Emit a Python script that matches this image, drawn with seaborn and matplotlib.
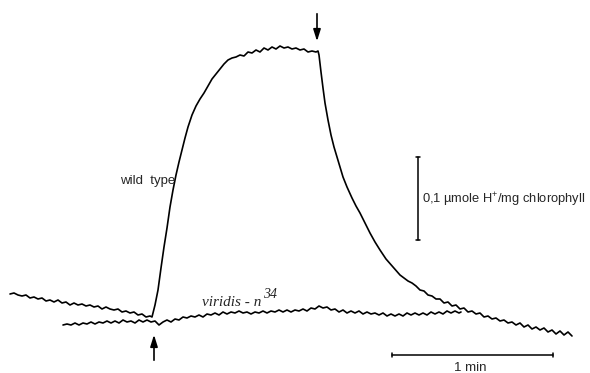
import matplotlib
matplotlib.use("Agg")
import matplotlib.pyplot as plt
import seaborn as sns

# traces (x = chart position, y = pen position, downwards)
wt_x = [10, 14, 18, 22, 26, 30, 34, 38, 42, 46, 50, 54, 58, 62, 66, 70, 74, 78, 82, 86,
        90, 94, 98, 102, 106, 110, 114, 118, 122, 126, 130, 134, 138, 142, 146, 150,
        152, 155, 158, 161, 164, 167, 170, 173, 176, 179, 182, 185, 188, 192, 196, 200,
        204, 208, 212, 216, 220, 224, 228, 232,
        236, 240, 244, 248, 252, 256, 260, 264, 268, 272, 276, 280, 284, 288, 292, 296,
        300, 304, 308, 312, 316, 318,
        319, 321, 323, 325, 328, 331, 334, 337, 340, 343, 347, 352, 356, 360, 365, 370,
        375, 380, 386, 393,
        400, 404, 408, 412, 416, 420, 424, 428, 432, 436, 440, 444, 448, 452, 456, 460,
        464, 468, 472, 476, 480, 484, 488, 492, 496, 500, 504, 508, 512, 516, 520, 524,
        528, 532, 536, 540, 544, 548, 552, 556, 560, 564, 568, 572]
wt_y = [294, 293, 295, 296, 295, 298, 297, 299, 298, 301, 300, 302, 300, 303, 302, 305, 303, 305, 304, 306,
        305, 307, 306, 309, 307, 309, 310, 309, 312, 311, 313, 312, 315, 314, 317, 316,
        317, 305, 290, 268, 247, 228, 207, 190, 175, 162, 150, 138, 127, 115, 106, 99,
        93, 86, 79, 74, 69, 64, 60, 58,
        57, 55, 56, 52, 53, 50, 52, 48, 50, 47, 49, 46, 48, 47, 49, 48,
        50, 49, 52, 51, 52, 51,
        55, 72, 88, 103, 120, 135, 147, 157, 167, 177, 187, 198, 206, 213, 223, 233,
        242, 250, 259, 267,
        275, 278, 281, 283, 286, 290, 291, 295, 296, 299, 299, 303, 302, 306, 305, 309,
        308, 312, 311, 314, 313, 317, 316, 319, 318, 321, 320, 323, 322, 325, 323, 327,
        325, 329, 327, 330, 328, 332, 330, 334, 331, 335, 332, 336]

vir_x = [63, 67, 71, 75, 79, 83, 87, 91, 95, 99, 103, 107, 111, 115, 119, 123, 127, 131, 135, 139,
         143, 147, 151, 155, 159, 163, 167, 171, 175, 179, 183, 187, 191, 195, 199, 203, 207, 211,
         215, 219, 223, 227, 231, 235, 239, 243, 247, 251, 255, 259, 263, 267, 271, 275, 279, 283,
         287, 291, 295, 299, 303, 307, 311, 315, 319, 323, 327, 331, 335, 339, 343, 347, 351, 355,
         359, 363, 367, 371, 375, 379, 383, 387, 391, 395, 399, 403, 407, 411, 415, 419, 423, 427,
         431, 435, 439, 443, 447, 451, 455, 459, 461]
vir_y = [325, 324, 325, 323, 325, 323, 324, 322, 324, 322, 323, 321, 323, 321, 323, 320, 322, 321, 323, 320,
         322, 320, 322, 321, 325, 322, 320, 322, 319, 320, 317, 318, 316, 317, 315, 317, 314, 315,
         313, 315, 312, 314, 312, 313, 311, 313, 312, 314, 312, 313, 311, 313, 311, 312, 310, 312,
         310, 312, 310, 311, 309, 311, 308, 309, 306, 308, 307, 310, 309, 312, 310, 313, 311, 313,
         311, 314, 312, 314, 313, 315, 313, 316, 314, 316, 314, 316, 313, 315, 313, 315, 313, 315,
         312, 314, 312, 314, 311, 313, 311, 313, 312]

light_on = 154
light_off = 317
one_min = 161          # chart units per minute
h_scale = 83           # chart units per 0.1 umol H+/mg chlorophyll

sns.set_style("white")
plt.rcParams["font.family"] = ["Liberation Sans", "DejaVu Sans"]
plt.rcParams["mathtext.default"] = "regular"

fig = plt.figure(figsize=(5.9, 3.73), dpi=100)
ax = fig.add_axes([0, 0, 1, 1])
sns.lineplot(x=wt_x, y=wt_y, sort=False, estimator=None, color="black", lw=1.2, ax=ax)
sns.lineplot(x=vir_x, y=vir_y, sort=False, estimator=None, color="black", lw=1.2, ax=ax)
ax.set_xlim(0, 590)
ax.set_ylim(373, 0)
ax.axis("off")

# light on / off arrows
arr = dict(arrowstyle="-|>,head_length=0.7,head_width=0.22", color="black", lw=1.2)
ax.annotate("", xy=(light_on, 332), xytext=(light_on, 363), arrowprops=arr)
ax.annotate("", xy=(light_off, 44), xytext=(light_off, 11), arrowprops=arr)

# labels
ax.text(175, 181, "wild  type", ha="right", va="center", fontsize=9.5)
vt = ax.text(202, 306, "viridis - n", fontsize=11, family="Liberation Serif",
             style="italic", va="baseline")
ax.annotate("34", xy=(1.0, 0.6), xycoords=vt, xytext=(1, 0), textcoords="offset points",
            fontsize=10, family="Liberation Serif", style="italic", va="bottom")

# vertical scale bar
ax.plot([418, 418], [157, 157 + h_scale], color="black", lw=1.1)
ax.plot([416, 420], [157, 157], color="black", lw=1.1)
ax.plot([416, 420], [157 + h_scale, 157 + h_scale], color="black", lw=1.1)
ax.text(422, 200, "0,1 µmole H$^{+}$/mg chlorophyll", ha="left", va="center", fontsize=9.3)

# time scale bar
ax.plot([392, 392 + one_min], [355, 355], color="black", lw=1.1)
ax.plot([392, 392], [353, 357], color="black", lw=1.1)
ax.plot([392 + one_min, 392 + one_min], [353, 357], color="black", lw=1.1)
ax.text(392 + one_min / 2 - 2, 368, "1 min", ha="center", va="center", fontsize=9.5)

fig.savefig("out.png", dpi=100)
